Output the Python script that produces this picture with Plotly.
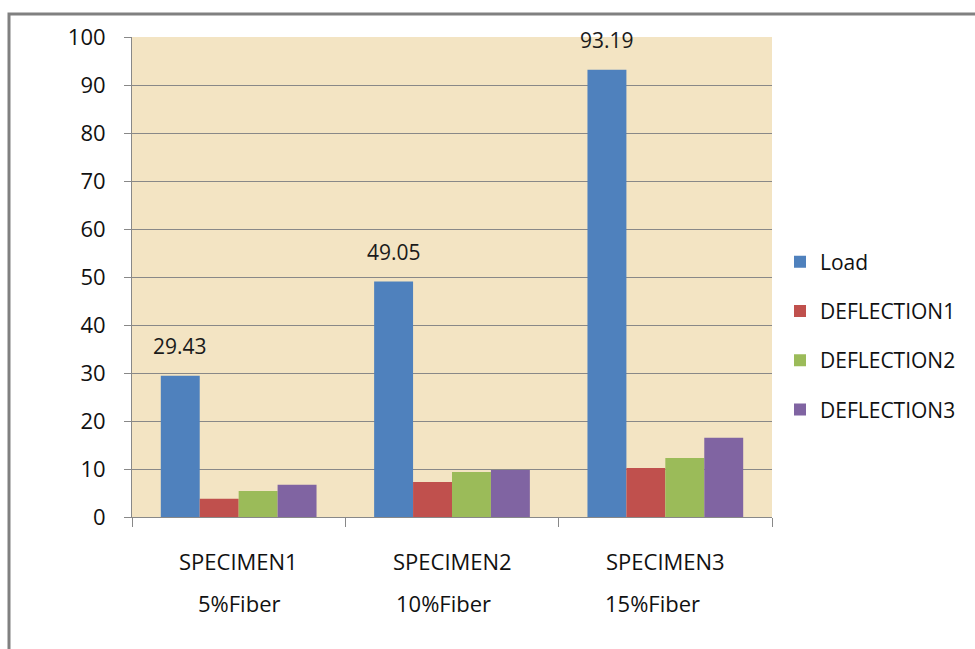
import plotly.graph_objects as go

# Flexural test results per specimen
specimens = ["SPECIMEN1", "SPECIMEN2", "SPECIMEN3"]
fiber_content = ["5%Fiber", "10%Fiber", "15%Fiber"]
load = [29.43, 49.05, 93.19]
deflection1 = [3.8, 7.3, 10.2]
deflection2 = [5.4, 9.4, 12.3]
deflection3 = [6.7, 9.8, 16.5]

series = [
    ("Load", load, "#4F81BD"),
    ("DEFLECTION1", deflection1, "#C0504D"),
    ("DEFLECTION2", deflection2, "#9BBB59"),
    ("DEFLECTION3", deflection3, "#8064A2"),
]

FONT = "Open Sans"
W, H = 975, 649
ML, MR, MT, MB = 132, 203, 37, 132
PW, PH = W - ML - MR, H - MT - MB

fig = go.Figure()
for i, (name, vals, color) in enumerate(series):
    fig.add_trace(go.Bar(
        x=specimens, y=vals, name=name, legendgroup=f"g{i}",
        marker=dict(color=color, line=dict(width=0)),
    ))

annotations = []
# value labels above the Load bars
bargap = 0.27
bar_px = PW / len(specimens) * (1 - bargap) / len(series)
for s, v in zip(specimens, load):
    annotations.append(dict(
        x=s, y=v, xref="x", yref="y", text=f"{v:.2f}", showarrow=False,
        xshift=-1.5 * bar_px, yshift=14, yanchor="bottom",
        font=dict(family=FONT, size=21, color="#1a1a1a"),
    ))

# two-row category captions under the axis
fiber_shift = [0, -9, -13]
for s, f, dx in zip(specimens, fiber_content, fiber_shift):
    annotations.append(dict(
        x=s, y=-44 / PH, xref="x", yref="paper", text=s, showarrow=False,
        yanchor="middle", font=dict(family=FONT, size=22, color="#111"),
    ))
    annotations.append(dict(
        x=s, y=-86 / PH, xref="x", yref="paper", text=f, showarrow=False,
        yanchor="middle", xshift=dx, font=dict(family=FONT, size=22, color="#111"),
    ))

fig.update_layout(
    width=W, height=H,
    margin=dict(l=ML, r=MR, t=MT, b=MB, autoexpand=False),
    paper_bgcolor="white",
    plot_bgcolor="#F3E4C3",
    barmode="group", bargap=bargap, bargroupgap=0,
    font=dict(family=FONT, size=21, color="#111"),
    showlegend=True,
    legend=dict(
        x=(780 - ML) / PW, y=(MT + PH - 336) / PH, xanchor="left", yanchor="middle",
        traceorder="grouped", tracegroupgap=19,
        font=dict(family=FONT, size=21, color="#111"),
        bgcolor="rgba(0,0,0,0)", itemwidth=30,
    ),
    annotations=annotations,
    shapes=[dict(
        type="rect", xref="paper", yref="paper",
        x0=(9 - ML) / PW, x1=(W + 20 - ML) / PW,
        y0=(MT + PH - (H + 20)) / PH, y1=(MT + PH - 14) / PH,
        line=dict(color="#808080", width=3), fillcolor="rgba(0,0,0,0)", layer="below",
    )],
)

fig.update_xaxes(
    type="category", showticklabels=False, tickson="boundaries",
    ticks="outside", ticklen=9, tickcolor="#888", tickwidth=1,
    showline=True, linecolor="#888", linewidth=1, showgrid=False,
)
fig.update_yaxes(
    range=[0, 100], dtick=10, tick0=0,
    ticks="outside", ticklen=7, tickcolor="#888", tickwidth=1,
    showline=True, linecolor="#888", linewidth=1,
    showgrid=True, gridcolor="#888", gridwidth=1, zeroline=False,
    ticklabelstandoff=14,
    tickfont=dict(family=FONT, size=22, color="#111"),
)

fig.write_html("out.html")
